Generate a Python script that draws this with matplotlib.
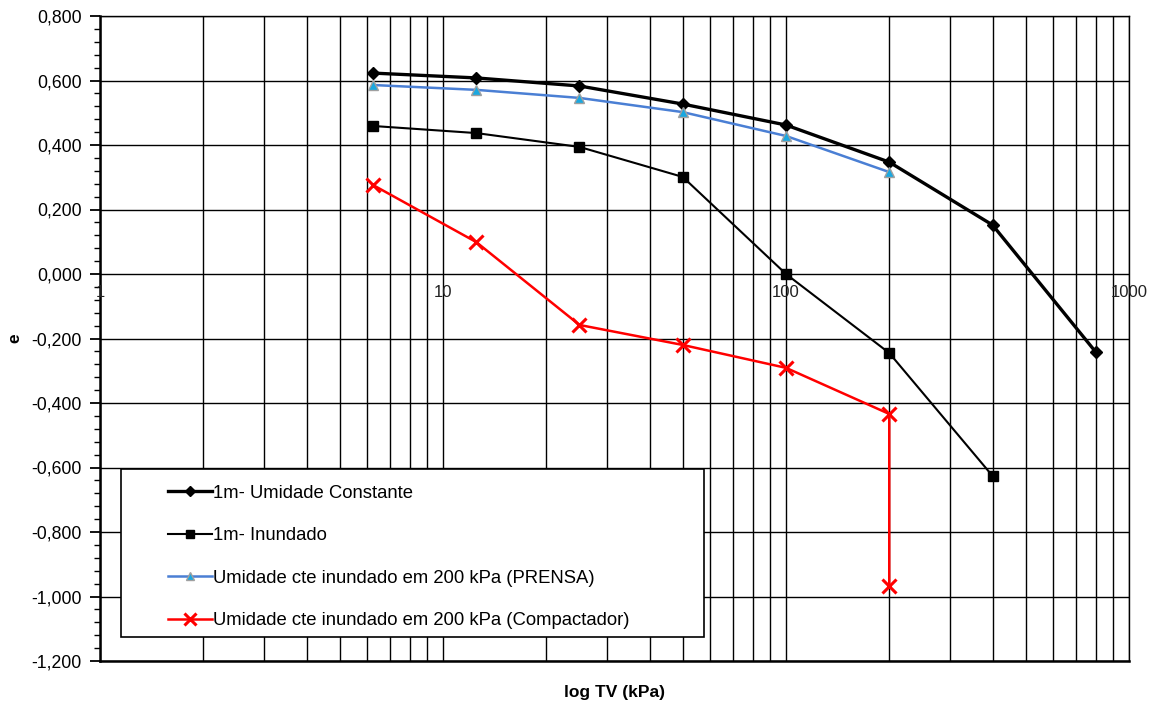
import numpy as np
import matplotlib
matplotlib.use("Agg")
import matplotlib.pyplot as plt
from matplotlib.ticker import FuncFormatter, MultipleLocator, LogLocator, NullFormatter
from matplotlib.patches import Rectangle

plt.rcParams['font.family'] = ['Liberation Sans', 'DejaVu Sans']

# tensao vertical (kPa)
tv_const = [6.25, 12.5, 25, 50, 100, 200, 400, 800]
e_const = [0.623, 0.608, 0.583, 0.527, 0.462, 0.347, 0.152, -0.242]

tv_inund = [6.25, 12.5, 25, 50, 100, 200, 400]
e_inund = [0.459, 0.437, 0.394, 0.301, 0.0, -0.245, -0.626]

tv_prensa = [6.25, 12.5, 25, 50, 100, 200]
e_prensa = [0.586, 0.571, 0.546, 0.502, 0.428, 0.316]

tv_compac = [6.25, 12.5, 25, 50, 100, 200, 200]
e_compac = [0.276, 0.099, -0.158, -0.220, -0.291, -0.434, -0.967]

labels = ["1m- Umidade Constante", "1m- Inundado",
          "Umidade cte inundado em 200 kPa (PRENSA)",
          "Umidade cte inundado em 200 kPa (Compactador)"]
xtick_vals = [1, 10, 100, 1000]

fig = plt.figure(figsize=(11.57, 7.02), dpi=100)
ax = fig.add_axes([100 / 1157, 41 / 702, 1029 / 1157, 645 / 702])

ax.plot(tv_const, e_const, color='black', lw=2.4, marker='D', ms=6,
        mfc='black', mec='black', label=labels[0], zorder=3)
ax.plot(tv_inund, e_inund, color='black', lw=1.5, marker='s', ms=7,
        mfc='black', mec='black', label=labels[1], zorder=3)
ax.plot(tv_prensa, e_prensa, color='#4a7fd4', lw=1.8, marker='^', ms=7,
        mfc='#1aa8e0', mec='#a0a0a0', mew=1, label=labels[2], zorder=3)
ax.plot(tv_compac, e_compac, color='#ff0000', lw=1.8, marker='x', ms=10,
        mew=2.2, label=labels[3], zorder=3)

ax.set_xscale('log')
ax.set_xlim(1, 1000)
ax.set_ylim(-1.2, 0.8)

ax.xaxis.set_major_locator(LogLocator(base=10))
ax.xaxis.set_minor_locator(LogLocator(base=10, subs=np.arange(2, 10)))
ax.xaxis.set_major_formatter(NullFormatter())
ax.xaxis.set_minor_formatter(NullFormatter())
ax.tick_params(axis='x', which='both', length=0)

ax.yaxis.set_major_locator(MultipleLocator(0.2))
ax.yaxis.set_minor_locator(MultipleLocator(0.04))
ax.yaxis.set_major_formatter(FuncFormatter(
    lambda v, p: f"{v + 0.0:.3f}".replace('.', ',').replace('-0,000', '0,000')))
ax.tick_params(axis='y', which='major', length=7, width=1.3, labelsize=12.7, pad=6)
ax.tick_params(axis='y', which='minor', length=4, width=1)

ax.grid(True, which='both', axis='x', color='black', lw=1)
ax.grid(True, which='major', axis='y', color='black', lw=1)
ax.set_axisbelow(True)

for s in ['left', 'bottom']:
    ax.spines[s].set_linewidth(1.8)
for s in ['top', 'right']:
    ax.spines[s].set_linewidth(1)

# x tick labels along the e = 0 line
for xv in xtick_vals:
    ax.annotate(str(xv), (xv, 0), xytext=(0, -8), textcoords='offset points',
                ha='center', va='top', fontsize=12, color='#222222', zorder=6)

ax.set_xlabel("log TV (kPa)", fontsize=12.5, fontweight='bold', labelpad=14)
ax.set_ylabel("e", fontsize=12.5, fontweight='bold')
ax.yaxis.set_label_coords(-0.075, 0.5)

box = Rectangle((21 / 1029, 24 / 645), 583 / 1029, 168 / 645, transform=ax.transAxes,
                facecolor='white', edgecolor='black', lw=1.2, zorder=4)
ax.add_patch(box)
leg = ax.legend(loc='upper left', bbox_to_anchor=(55 / 1029, 189 / 645), frameon=False,
                fontsize=13.3, handlelength=2.4, handletextpad=0.05, labelspacing=1.38,
                borderpad=0.2, markerscale=0.85)
leg.set_zorder(5)

fig.savefig("out.png", dpi=100)
